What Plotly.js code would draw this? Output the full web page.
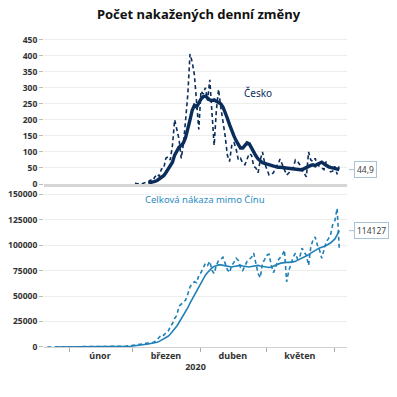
<!DOCTYPE html>
<html>
<head>
<meta charset="utf-8">
<script src="https://cdn.plot.ly/plotly-3.0.1.min.js"></script>
<style>html,body{margin:0;padding:0;background:#fff;}#chart{width:397px;height:397px;}</style>
</head>
<body>
<div id="chart"></div>
<script>
// ---- Data ----
// Česko: daily new cases (dashed), starting 2020-03-02
const czDailyStart = '2020-03-02';
const czDaily = [
  3,0,2,0,3,5,7,12,10,22, 31,24,47,48,80,85,75,120,200,170, 140,80,125,200,280,405,380,340,260,170,
  290,280,300,260,325,225,120,230,295,240, 200,150,90,70,120,130,110,75,80,65, 60,75,95,90,55,50,35,75,100,65,
  45,28,30,35,55,60,78,60,40,28, 34,45,50,75,70,60,45,35,22,100, 75,70,80,60,55,50,45,70,55,38, 40,
  55,30,60
];
// Česko: 7-day average (solid), starting 2020-03-08
const czAvgStart = '2020-03-08';
const czAvg = [
  3,4,6,8,11,15,20,26,35,45, 55,68,90,105,115,120,128,145,170,200, 230,245,240,255,
  265,272,274,268,262,260,262,258,255,250, 240,225,205,185,165,150,135,122,112,112, 120,128,125,112,98,88,78,70,66,64,
  62,60,56,54,53,52,52,51,50,50, 49,49,47,46,45,44,44,48,52,56, 58,60,57,62,66,68,63,58,54,52, 50,
  48,46,44.9
];
// World outside China: daily new cases (dashed), starting 2020-01-22
const wDailyStart = '2020-01-22';
const wDaily = [
  5,3,8,10,15,12,20,15,25,30,
  20,25,30,15,20,25,40,30,35,50, 40,30,60,70,50,80,90,100,120,150, 250,300,450,500,600,700,900,1100,1400,
  1800,2000,2300,2400,2800,3500,3800,4000,4500,4200, 5500,7000,9500,12000,11500,14000,15000,20000,23000,28000,
  31000,40000,42000,44000,46000,52000,59000,62000,64000,63000, 70000,
  73000,78000,82000,80000,84000,75000,72000,80000,85000,86000, 88000,82000,76000,73000,80000,83000,87000,85000,78000,75000,
  80000,84000,86000,88000,92000,80000,72000,68000,82000,86000,
  90000,91000,80000,73000,78000,85000,88000,90000,95000,64000, 75000,82000,88000,92000,86000,88000,97000,93000,90000,80000,
  98000,105000,108000,100000,95000,87000,95000,103000,106000,110000, 120000,
  124000,136000,95000
];
// World outside China: 7-day average (solid), starting 2020-01-26
const wAvgStart = '2020-01-26';
const wAvg = [
  10,12,14,16,18,20,
  22,24,25,26,27,28,30,32,35,38, 40,42,45,48,52,56,62,70,80,95, 115,145,185,240,300,380,480,600,750,
  950,1150,1400,1650,1900,2200,2600,3000,3400,3700, 4100,4700,5500,6600,7800,9200,10500,12500,15000,17500,
  20500,24000,27500,31000,34500,38500,43000,47000,51000,55000, 59000,
  63000,67000,70500,73000,75500,77500,79000,80000,80500,80500, 80000,79500,79000,78500,78500,79000,79500,80000,80000,79500,
  79000,78500,78500,79000,79500,80000,80000,79500,79000,78500,
  78000,78000,78500,79500,80500,81500,82000,82500,83000,83000, 83000,83000,83500,84000,85000,86000,87000,88000,89000,90500,
  92000,93500,95000,96000,97000,97500,98500,99500,100500,102000, 104000,
  106000,110000,114127
];
const monthTickVals = ['2020-02-15','2020-03-16','2020-04-15 12:00','2020-05-16'];
const monthTickText = ['únor','březen','duben','květen'];
const monthStarts = '2020-02-01';
const yTopTicks = [0,50,100,150,200,250,300,350,400,450];
const yBotTicks = [0,25000,50000,75000,100000,125000,150000];
const czLast = '44,9';
const wLast = '114127';

function dates(start, n) {
  const out = [];
  const d0 = new Date(start + 'T00:00:00Z');
  for (let i = 0; i < n; i++) {
    const d = new Date(d0.getTime() + i * 86400000);
    out.push(d.toISOString().slice(0, 10));
  }
  return out;
}

const navy = '#0b2d5b';
const blue = '#1f80b8';
const FONT = 'Noto Sans, Open Sans, sans-serif';

const traces = [
  {x: dates(czDailyStart, czDaily.length), y: czDaily, xaxis:'x2', yaxis:'y2', mode:'lines',
   line:{color:navy, width:1.6, dash:'4px,3px'}, hoverinfo:'skip'},
  {x: dates(czAvgStart, czAvg.length), y: czAvg, xaxis:'x2', yaxis:'y2', mode:'lines',
   line:{color:navy, width:3.4}, hoverinfo:'skip'},
  {x: dates(wDailyStart, wDaily.length), y: wDaily, xaxis:'x', yaxis:'y', mode:'lines',
   line:{color:blue, width:1.6, dash:'4px,3px'}, hoverinfo:'skip'},
  {x: dates(wAvgStart, wAvg.length), y: wAvg, xaxis:'x', yaxis:'y', mode:'lines',
   line:{color:blue, width:1.6}, hoverinfo:'skip'}
];

const tickFont = {family: FONT, size: 8.5, color:'#333', weight:'bold'};
const xRange = ['2020-01-20 12:00','2020-06-06 12:00'];

const layout = {
  width:397, height:397,
  margin:{l:44, r:50, t:38, b:50},
  paper_bgcolor:'#fff', plot_bgcolor:'#fff',
  showlegend:false,
  font:{family: FONT, size: 9, color:'#333'},
  title:{text:'Počet nakažených denní změny', font:{family: FONT, size:13, weight:'bold', color:'#111'},
         x:0.5, xref:'container', y:0.963, yref:'container', yanchor:'middle'},
  xaxis:{type:'date', range:xRange, anchor:'y', tickmode:'array', tickvals:monthTickVals, ticktext:monthTickText,
         ticks:'', showline:true, linecolor:'#cfcfcf', linewidth:1, showgrid:false, zeroline:false,
         tickfont:{family: FONT, size: 9, color:'#333', weight:'bold'},
         minor:{ticks:'outside', ticklen:4, tickcolor:'#aaa', tickmode:'linear', tick0:monthStarts, dtick:'M1', showgrid:false},
         title:{text:'2020', font:{family: FONT, size: 9, color:'#333', weight:'bold'}, standoff:2}},
  xaxis2:{type:'date', range:xRange, matches:'x', anchor:'y2', showticklabels:false, ticks:'',
          showline:true, linecolor:'#d6d6d6', linewidth:3, showgrid:false, zeroline:false},
  yaxis:{domain:[0, 0.5016], range:[0,152000], tickmode:'array', tickvals:yBotTicks, tickformat:'d',
         ticks:'outside', ticklen:4, tickcolor:'#bbb', gridcolor:'#ededed', gridwidth:1,
         zeroline:false, showline:false, tickfont:tickFont},
  yaxis2:{domain:[0.5275, 1], range:[0,455], tickmode:'array', tickvals:yTopTicks, tickformat:'d',
          ticks:'outside', ticklen:4, tickcolor:'#bbb', gridcolor:'#ededed', gridwidth:1,
          zeroline:false, showline:false, tickfont:tickFont},
  annotations:[
    {text:'Česko', xref:'x2', yref:'y2', x:'2020-04-27', y:283, showarrow:false,
     font:{family:FONT, size:10, color:navy}},
    {text:'Celková nákaza mimo Čínu', xref:'x', yref:'y', x:'2020-04-03', y:145000, showarrow:false,
     font:{family:FONT, size:9.5, color:'#2a8cc4'}},
    {text:czLast, xref:'paper', yref:'y2', x:1.0066, y:44.9, showarrow:true, ax:17, ay:0,
     arrowhead:0, arrowwidth:1, arrowcolor:'#a8c3d6', bordercolor:'#a8c3d6', borderwidth:1, borderpad:2,
     bgcolor:'#fff', font:{family:FONT, size:8.5, color:'#444'}},
    {text:wLast, xref:'paper', yref:'y', x:1.0066, y:114127, showarrow:true, ax:23, ay:0,
     arrowhead:0, arrowwidth:1, arrowcolor:'#a8c3d6', bordercolor:'#a8c3d6', borderwidth:1, borderpad:2,
     bgcolor:'#fff', font:{family:FONT, size:8.5, color:'#444'}},
    {text:'Source: KBC Economics based on WHO, SPDJI, Macrobond', xref:'container', yref:'container',
     x:0.977, y:0.033, xanchor:'right', yanchor:'middle', showarrow:false,
     font:{family:FONT, size:6.5, color:'#333'}}
  ]
};

Plotly.newPlot('chart', traces, layout, {displayModeBar:false, staticPlot:true});
</script>
</body>
</html>
